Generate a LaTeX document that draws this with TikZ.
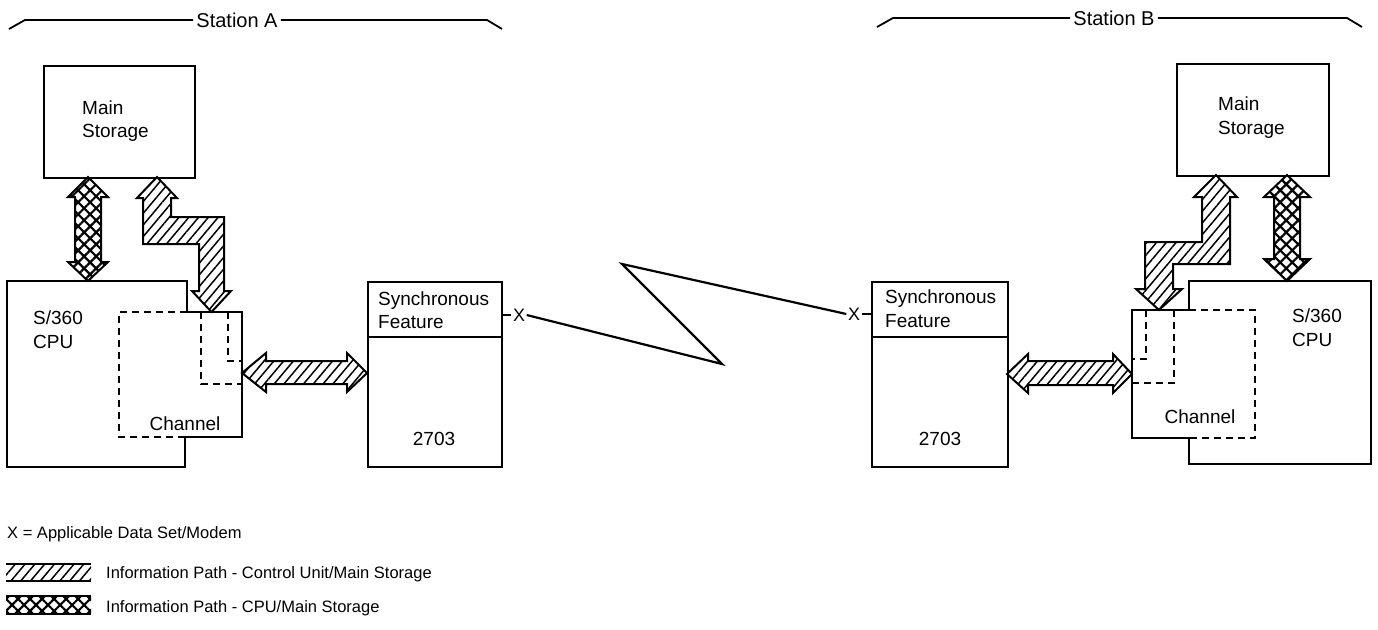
\documentclass[tikz,border=0pt]{standalone}
\usepackage{fontspec}
\setmainfont{Liberation Sans}
\usetikzlibrary{patterns.meta}
\begin{document}
\begin{tikzpicture}[x=1pt,y=-1pt,
  box/.style={draw, line width=2.2pt},
  hatchfill/.style={draw, line width=2pt, pattern={Lines[angle=50,distance=7.5pt,line width=1.5pt]}},
  crossfill/.style={draw, line width=2pt, pattern={Hatch[angle=45,distance=8.5pt,line width=2.2pt]}},
  dashedline/.style={line width=1.8pt, dash pattern=on 7pt off 5pt},
  bracket/.style={line width=1.8pt},
  lbl/.style={font=\fontsize{19}{23}\selectfont, inner sep=0pt, anchor=base west},
  lblc/.style={font=\fontsize{19}{23}\selectfont, inner sep=0pt, anchor=base},
  leg/.style={font=\fontsize{16.5}{19}\selectfont, inner sep=0pt, anchor=base west},
  stlbl/.style={font=\fontsize{20}{24}\selectfont, inner sep=3pt, anchor=center},
  xlbl/.style={font=\fontsize{18}{20}\selectfont, inner sep=1.5pt, anchor=center},
  wire/.style={line width=2.2pt}
]
\useasboundingbox (0,0) rectangle (1378,629);

% ---------------- Station brackets
\node[stlbl] (stA) at (237,20) {Station A};
\draw[bracket] (9,29) -- (25,20) -- (stA.west);
\draw[bracket] (stA.east) -- (487,20) -- (502,29);
\node[stlbl] (stB) at (1114,18) {Station B};
\draw[bracket] (877,27) -- (893,18) -- (stB.west);
\draw[bracket] (stB.east) -- (1347,18) -- (1362,27);

% ---------------- Station A
\node[box, minimum width=151, minimum height=112, anchor=north west, inner sep=0pt] (msA) at (43,65) {};
\node[lbl] (msA1) at (82,114) {Main};
\node[lbl] (msA2) at (82,137) {Storage};

% CPU + channel outline
\draw[box] (7,281) -- (187,281) -- (187,312) -- (242,312) -- (242,437) -- (185,437) -- (185,467) -- (7,467) -- cycle;
\draw[dashedline] (187,312) -- (119,312) -- (119,437) -- (185,437);
\draw[dashedline] (201,312) -- (201,384) -- (242,384);
\draw[dashedline] (228,312) -- (228,361) -- (242,361);
\node[lbl] (cpuA1) at (33,324) {S/360};
\node[lbl] (cpuA2) at (33,348) {CPU};
\node[lblc] (chA) at (185,430) {Channel};

% arrows station A
\draw[crossfill] (88,177) -- (108,197) -- (101,197) -- (101,262) -- (108,262) -- (88,281) -- (68,262) -- (75,262) -- (75,197) -- (68,197) -- cycle;
\draw[hatchfill] (157,177) -- (177,198) -- (171,198) -- (171,217) -- (224,217) -- (224,291) -- (231,291) -- (211.5,312) -- (192,291) -- (199,291) -- (199,244) -- (143,244) -- (143,198) -- (137,198) -- cycle;
\draw[hatchfill] (242,373) -- (266,353) -- (266,361) -- (347,361) -- (347,353) -- (367,373) -- (347,392) -- (347,384) -- (266,384) -- (266,392) -- cycle;

% 2703 A
\node[box, minimum width=134, minimum height=185, anchor=north west, inner sep=0pt] (syA) at (367,281) {};
\draw[box] (367,337) -- (501,337);
\node[lbl] (syA1) at (378,305) {Synchronous};
\node[lbl] (syA2) at (378,328) {Feature};
\node[lblc] (nA) at (434,445) {2703};

% ---------------- Station B
\node[box, minimum width=152, minimum height=112, anchor=north west, inner sep=0pt] (msB) at (1176,63) {};
\node[lbl] (msB1) at (1218,110) {Main};
\node[lbl] (msB2) at (1218,134) {Storage};

\draw[box] (1189,281) -- (1371,281) -- (1371,464) -- (1189,464) -- (1189,438) -- (1132,438) -- (1132,310) -- (1189,310) -- cycle;
\draw[dashedline] (1189,310) -- (1255,310) -- (1255,438) -- (1189,438);
\draw[dashedline] (1146,310) -- (1146,359) -- (1132,359);
\draw[dashedline] (1174,310) -- (1174,383) -- (1132,383);
\node[lbl] (cpuB1) at (1292,322) {S/360};
\node[lbl] (cpuB2) at (1292,346) {CPU};
\node[lblc] (chB) at (1200,423) {Channel};

\draw[crossfill] (1287,175) -- (1310,197) -- (1300,197) -- (1300,259) -- (1310,259) -- (1287,281) -- (1264,259) -- (1274,259) -- (1274,197) -- (1264,197) -- cycle;
\draw[hatchfill] (1216,175) -- (1237,197) -- (1230,197) -- (1230,264) -- (1173,264) -- (1173,289) -- (1182,289) -- (1159,310) -- (1136,289) -- (1145,289) -- (1145,242) -- (1202,242) -- (1202,197) -- (1194,197) -- cycle;
\draw[hatchfill] (1007,374) -- (1028,354) -- (1028,361) -- (1113,361) -- (1113,354) -- (1132,374) -- (1113,393) -- (1113,385) -- (1028,385) -- (1028,393) -- cycle;

\node[box, minimum width=136, minimum height=185, anchor=north west, inner sep=0pt] (syB) at (871,281) {};
\draw[box] (871,337) -- (1007,337);
\node[lbl] (syB1) at (885,303) {Synchronous};
\node[lbl] (syB2) at (885,327) {Feature};
\node[lblc] (nB) at (940,445) {2703};

% ---------------- communication line
\node[xlbl] (xA) at (519,315) {X};
\node[xlbl] (xB) at (854,314) {X};
\coordinate (zz1) at (722,364);
\coordinate (zz2) at (622,264);
\draw[wire] (syA.east |- xA) -- (xA.west);
\draw[wire] (xA.east) -- (zz1) -- (zz2) -- (xB.west);
\draw[wire] (xB.east) -- (syB.west |- xB);

% ---------------- legend
\node[leg] (lg1) at (7,538) {X = Applicable Data Set/Modem};
\fill[pattern={Lines[angle=50,distance=7.5pt,line width=1.5pt]}] (6,564) rectangle (91,581);
\draw[line width=1.8pt] (6,564) -- (91,564) (6,581) -- (91,581);
\node[leg] (lg2) at (106,578) {Information Path - Control Unit/Main Storage};
\fill[pattern={Hatch[angle=45,distance=8.5pt,line width=2.2pt]}] (6,596) rectangle (91,614);
\draw[line width=1.8pt] (6,596) -- (91,596) (6,614) -- (91,614);
\node[leg] (lg3) at (106,612) {Information Path - CPU/Main Storage};
\end{tikzpicture}
\end{document}
